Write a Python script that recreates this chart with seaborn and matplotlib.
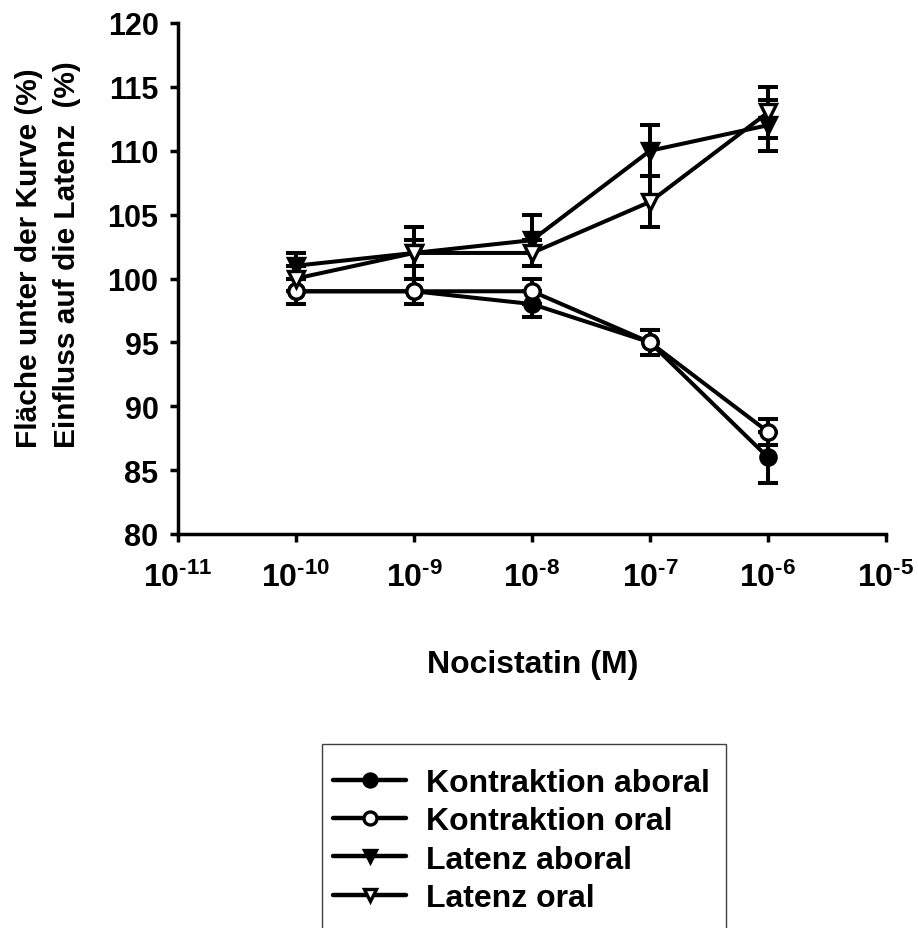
import matplotlib
matplotlib.use("Agg")
import matplotlib.pyplot as plt
import numpy as np
import pandas as pd
import seaborn as sns
from matplotlib.patches import Rectangle

# Nocistatin concentrations (M)
conc = [1e-10, 1e-9, 1e-8, 1e-7, 1e-6]

kontr_aboral = [99, 99, 98, 95, 86]
kontr_aboral_err = [1, 1, 1, 1, 2]
kontr_oral = [99, 99, 99, 95, 88]
kontr_oral_err = [1, 1, 1, 1, 1]
lat_aboral = [101, 102, 103, 110, 112]
lat_aboral_err = [1, 2, 2, 2, 2]
lat_oral = [100, 102, 102, 106, 113]
lat_oral_err = [1, 1, 1, 2, 2]

labels = ["Kontraktion aboral", "Kontraktion oral", "Latenz aboral", "Latenz oral"]
x_ticks = [1e-11, 1e-10, 1e-9, 1e-8, 1e-7, 1e-6, 1e-5]
x_exps = ["-11", "-10", "-9", "-8", "-7", "-6", "-5"]
y_ticks = [80, 85, 90, 95, 100, 105, 110, 115, 120]

sns.set_style("ticks")
plt.rcParams['font.family'] = ['Liberation Sans', 'DejaVu Sans']
plt.rcParams['font.weight'] = 'bold'
plt.rcParams['text.color'] = 'black'
plt.rcParams['xtick.color'] = 'black'
plt.rcParams['ytick.color'] = 'black'
plt.rcParams['mathtext.fontset'] = 'custom'
plt.rcParams['mathtext.rm'] = 'Liberation Sans:bold'
plt.rcParams['mathtext.bf'] = 'Liberation Sans:bold'
plt.rcParams['mathtext.it'] = 'Liberation Sans:bold'

W, H = 918, 929
fig = plt.figure(figsize=(W / 100, H / 100), dpi=100)
ax = fig.add_axes([178 / W, 1 - 535 / H, (886 - 178) / W, (535 - 24) / H])

series = [
    (kontr_aboral, kontr_aboral_err, "o", "black"),
    (kontr_oral, kontr_oral_err, "o", "white"),
    (lat_aboral, lat_aboral_err, "v", "black"),
    (lat_oral, lat_oral_err, "v", "white"),
]

for (vals, errs, mk, fc), lab in zip(series, labels):
    ax.errorbar(conc, vals, yerr=errs, fmt="none", ecolor="black",
                elinewidth=2.9, capsize=7, capthick=2.9, zorder=2)
    df = pd.DataFrame({"conc": conc, "val": vals})
    sns.lineplot(data=df, x="conc", y="val", ax=ax, color="black", lw=2.9,
                 marker=mk, markersize=11, markerfacecolor=fc,
                 markeredgecolor="black", markeredgewidth=2.4,
                 label=lab, zorder=3)

ax.set_xscale("log")
ax.set_xlim(1e-11, 1e-5)
ax.set_ylim(80, 120)
ax.set_xticks(x_ticks)
ax.set_xticklabels([r"$10^{\text{" + e + "}}$" for e in x_exps], fontsize=23)
ax.minorticks_off()
ax.set_yticks(y_ticks)
ax.set_yticklabels([str(v) for v in y_ticks], fontsize=22, fontweight="bold",
                   color="black")
ax.tick_params(axis="both", width=2.5, length=6, color="black", pad=8)
ax.tick_params(axis="x", pad=14)
for s in ["top", "right"]:
    ax.spines[s].set_visible(False)
for s in ["left", "bottom"]:
    ax.spines[s].set_linewidth(2.5)
    ax.spines[s].set_color("black")
ax.set_xlabel("")
ax.set_ylabel("")

fig.text(533 / W, 1 - 665 / H, "Nocistatin (M)", ha="center", va="center",
         fontsize=23, fontweight="bold", color="black")
fig.text(29 / W, 1 - 448 / H, "Fläche unter der Kurve (%)", rotation=90,
         ha="center", va="bottom", fontsize=21.5, fontweight="bold", color="black")
fig.text(67 / W, 1 - 448 / H, "Einfluss auf die Latenz  (%)", rotation=90,
         ha="center", va="bottom", fontsize=21.5, fontweight="bold", color="black")

# legend box runs past the bottom edge of the figure
fig.patches.append(Rectangle((322 / W, -0.02), (726 - 322) / W, 0.02 + (1 - 745 / H),
                             transform=fig.transFigure, fill=False,
                             edgecolor="#404040", linewidth=1.0))

leg = ax.legend(loc="upper left", bbox_to_anchor=(333 / W, 1 - 769 / H),
                bbox_transform=fig.transFigure, borderaxespad=0,
                fontsize=23, frameon=False, handlelength=2.3,
                handletextpad=0.62, labelspacing=0.26, borderpad=0,
                markerscale=0.85)
for t in leg.get_texts():
    t.set_fontweight("bold")
    t.set_color("black")
for h in leg.legend_handles:
    h.set_linewidth(3.2)

fig.savefig("out.png", dpi=100)
